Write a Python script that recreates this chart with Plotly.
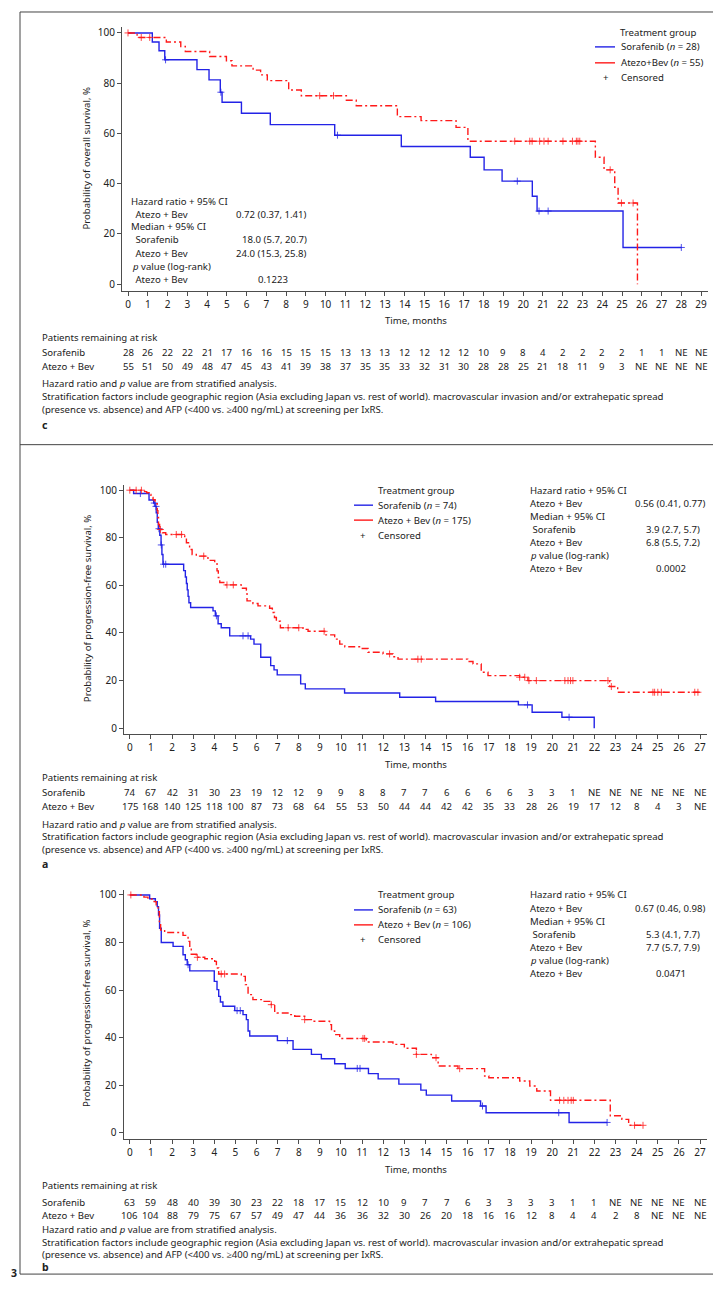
import plotly.graph_objects as go

W, H = 721, 1297
FONT = "Noto Sans"
TXT = "#222222"
AX = "#4d4d4d"
BLUE = "#2323e6"
RED = "#ff1a1a"

# ---------------- data: panel c (overall survival) ----------------
c_months = list(range(0, 30))
c_sor_risk = ["28", "26", "22", "22", "21", "17", "16", "16", "15", "15", "15", "13", "13", "13", "12",
              "12", "12", "12", "10", "9", "8", "4", "2", "2", "2", "2", "1", "1", "NE", "NE"]
c_ate_risk = ["55", "51", "50", "49", "48", "47", "45", "43", "41", "39", "38", "37", "35", "35", "33",
              "32", "31", "30", "28", "28", "25", "21", "18", "11", "9", "3", "NE", "NE", "NE", "NE"]
c_sor_t = [0, 1.23, 1.57, 1.86, 3.49, 4.10, 4.67, 4.76, 5.74, 7.20, 10.46, 13.83, 17.32, 18.02, 18.93,
           20.46, 20.70, 25.05, 28.0]
c_sor_s = [100, 96.4, 92.9, 89.3, 85.4, 81.3, 76.4, 72.4, 68.0, 63.5, 59.3, 54.8, 50.5, 45.5, 41.0,
           35.0, 29.1, 14.6, 14.6]
c_sor_cens = [1.9, 4.7, 10.6, 19.7, 20.8, 21.26, 28.0]
c_ate_t = [0, 0.46, 1.94, 2.67, 2.90, 4.13, 4.98, 5.26, 6.33, 6.71, 7.05, 8.13, 8.77, 11.05, 11.55,
           13.63, 14.83, 16.60, 17.20, 23.65, 24.09, 24.63, 24.80, 25.78]
c_ate_s = [100, 98.2, 96.4, 94.6, 92.6, 90.6, 88.9, 86.9, 85.2, 83.3, 81.0, 77.3, 75.0, 73.2, 71.0,
           66.7, 65.1, 62.4, 56.9, 50.5, 45.5, 38.6, 32.3, 0]
c_ate_cens = [0.0, 0.67, 1.1, 9.7, 10.4, 19.57, 20.33, 20.45, 20.83, 21.05, 21.26, 22.01, 22.49,
              22.69, 22.77, 22.86, 24.4, 24.97, 25.56]

# ---------------- data: panel a (PFS) ----------------
ab_months = list(range(0, 28))
a_sor_risk = ["74", "67", "42", "31", "30", "23", "19", "12", "12", "9", "9", "8", "8", "7", "7",
              "6", "6", "6", "6", "3", "3", "1", "NE", "NE", "NE", "NE", "NE", "NE"]
a_ate_risk = ["175", "168", "140", "125", "118", "100", "87", "73", "68", "64", "55", "53", "50", "44",
              "44", "42", "42", "35", "33", "28", "26", "19", "17", "12", "8", "4", "3", "NE"]
a_sor_t = [0, 0.18, 0.91, 1.13, 1.20, 1.25, 1.30, 1.35, 1.42, 1.48, 1.52, 1.57, 2.55, 2.63, 2.68,
           2.72, 2.76, 2.80, 2.88, 3.94, 4.05, 4.18, 4.33, 4.73, 5.72, 5.88, 6.20, 6.67, 6.83, 6.98,
           8.09, 8.31, 10.17, 12.78, 14.48, 18.40, 19.05, 20.46, 21.99]
a_sor_s = [100, 98.6, 95.9, 94.6, 93.2, 90.5, 86.5, 83.8, 81.1, 77.0, 73.0, 68.9, 66.2, 63.5, 60.8,
           58.1, 55.4, 52.7, 50.7, 49.3, 47.2, 43.9, 42.2, 38.8, 37.4, 35.3, 29.8, 26.3, 24.5, 22.4,
           18.6, 16.5, 14.8, 13.0, 11.2, 9.8, 6.7, 4.6, 0]
a_sor_cens = [0.5, 1.16, 1.24, 1.38, 1.49, 1.6, 1.7, 4.1, 5.36, 5.6, 18.83, 20.8]
a_ate_t = [0, 0.70, 0.80, 0.91, 1.00, 1.10, 1.20, 1.30, 1.33, 1.36, 1.41, 1.54, 1.70, 2.60, 2.68,
           2.83, 2.95, 3.15, 3.70, 4.02, 4.13, 4.19, 4.26, 4.49, 5.28, 5.52, 5.55, 5.83, 6.07, 6.62,
           6.75, 6.85, 6.94, 7.13, 8.20, 8.44, 9.23, 9.70, 9.94, 10.18, 10.96, 11.28, 11.99, 12.46,
           12.70, 16.00, 16.25, 16.64, 16.96, 18.46, 18.85, 22.72, 23.10, 27.10]
a_ate_s = [100, 99.4, 98.9, 98.2, 97.0, 96.0, 94.3, 91.4, 88.5, 85.6, 83.5, 82.1, 81.4, 80.0, 77.9,
           75.1, 73.0, 72.3, 70.5, 69.6, 66.1, 63.3, 61.2, 60.2, 58.8, 58.0, 53.5, 52.4, 51.4, 50.4,
           48.6, 46.5, 44.9, 42.2, 41.5, 40.7, 39.2, 37.4, 35.3, 34.2, 33.5, 31.9, 31.2, 30.0,
           29.0, 28.0, 27.0, 23.5, 22.1, 21.4, 20.0, 17.5, 15.1, 15.1]
a_ate_cens = [0.0, 0.3, 0.55, 1.45, 2.2, 2.45, 3.5, 4.6, 4.9, 7.5, 8.0, 9.2, 12.3, 13.64, 13.8,
              18.46, 18.7, 18.9, 19.25, 20.6, 20.75, 20.87, 20.98, 22.64, 22.8, 24.77, 24.85, 25.0,
              25.17, 26.75, 26.9]

# ---------------- data: panel b (PFS) ----------------
b_sor_risk = ["63", "59", "48", "40", "39", "30", "23", "22", "18", "17", "15", "12", "10", "9", "7",
              "7", "6", "3", "3", "3", "3", "1", "1", "NE", "NE", "NE", "NE", "NE"]
b_ate_risk = ["106", "104", "88", "79", "75", "67", "57", "49", "47", "44", "36", "36", "32", "30",
              "26", "20", "18", "16", "16", "12", "8", "4", "4", "2", "8", "NE", "NE", "NE"]
b_sor_t = [0, 0.94, 1.21, 1.30, 1.36, 1.41, 1.49, 2.05, 2.52, 2.63, 2.72, 2.84, 4.00, 4.13, 4.21,
           4.29, 4.41, 4.97, 5.36, 5.52, 5.60, 5.68, 6.99, 7.73, 8.60, 9.07, 9.70, 10.20, 11.30,
           11.76, 12.74, 13.78, 14.04, 15.24, 16.61, 16.87, 20.80, 22.60]
b_sor_s = [100, 98.4, 97.2, 95.1, 91.6, 86.0, 80.0, 78.4, 74.9, 72.8, 70.7, 68.1, 63.7, 60.2, 57.4,
           55.0, 53.2, 51.4, 49.7, 47.6, 42.8, 40.7, 38.8, 35.1, 33.0, 31.2, 29.1, 27.1, 24.9,
           22.7, 20.5, 18.0, 15.9, 13.4, 11.3, 8.5, 4.4, 4.4]
b_sor_cens = [2.76, 5.08, 5.23, 7.46, 10.77, 10.9, 16.7, 20.31, 22.6]
b_ate_t = [0, 0.67, 0.86, 1.15, 1.25, 1.34, 1.40, 1.46, 1.65, 2.52, 2.76, 2.84, 2.91, 3.15, 3.55,
           4.02, 4.10, 4.21, 5.28, 5.47, 5.60, 5.83, 6.23, 6.70, 6.86, 6.98, 7.49, 7.81, 8.28, 8.67,
           9.46, 9.55, 9.70, 9.94, 11.20, 12.46, 13.00, 13.57, 14.28, 14.60, 15.54, 16.80, 17.00,
           18.46, 18.94, 19.27, 19.92, 22.75, 23.30, 23.62, 24.30]
b_ate_s = [100, 99.1, 98.3, 97.2, 95.5, 93.0, 88.8, 85.3, 84.2, 83.0, 80.5, 77.7, 75.1, 73.8, 73.2,
           72.1, 69.3, 66.8, 65.8, 62.3, 58.1, 56.0, 55.3, 53.9, 51.1, 50.4, 49.7, 49.0, 47.6, 46.9,
           45.5, 42.8, 41.3, 39.7, 38.2, 37.2, 35.6, 33.0, 31.6, 28.1, 27.0, 23.9, 23.2,
           21.8, 19.7, 17.6, 13.7, 7.2, 5.7, 3.2, 3.2]
b_ate_cens = [0.05, 3.2, 4.33, 4.49, 6.7, 8.28, 11.04, 11.12, 13.57, 14.5, 15.62, 20.35, 20.55,
              20.75, 20.9, 21.0, 23.9, 24.3]

# ---------------- text ----------------
c_stats = [("Hazard ratio + 95% CI", ""), (" Atezo + Bev", "0.72 (0.37, 1.41)"),
           ("Median + 95% CI", ""), (" Sorafenib", "18.0 (5.7, 20.7)"),
           (" Atezo + Bev", "24.0 (15.3, 25.8)"), ("<i>p</i> value (log-rank)", ""),
           (" Atezo + Bev", "0.1223")]
a_stats = [("Hazard ratio + 95% CI", ""), ("Atezo + Bev", "0.56 (0.41, 0.77)"),
           ("Median + 95% CI", ""), (" Sorafenib", "3.9 (2.7, 5.7)"),
           ("Atezo + Bev", "6.8 (5.5, 7.2)"), ("<i>p</i> value (log-rank)", ""),
           ("Atezo + Bev", "0.0002")]
b_stats = [("Hazard ratio + 95% CI", ""), ("Atezo + Bev", "0.67 (0.46, 0.98)"),
           ("Median + 95% CI", ""), (" Sorafenib", "5.3 (4.1, 7.7)"),
           ("Atezo + Bev", "7.7 (5.7, 7.9)"), ("<i>p</i> value (log-rank)", ""),
           ("Atezo + Bev", "0.0471")]
note1 = "Hazard ratio and <i>p</i> value are from stratified analysis."
note2 = ("Stratification factors include geographic region (Asia excluding Japan vs. rest of world). "
         "macrovascular invasion and/or extrahepatic spread")
note3 = "(presence vs. absence) and AFP (&lt;400 vs. ≥400 ng/mL) at screening per IxRS."


def level(ts, ss, tc):
    v = ss[0]
    for t, s in zip(ts, ss):
        if t <= tc:
            v = s
    return v


fig = go.Figure()
annotations = []
shapes = []


def A(x, y, text, anchor="left", size=9.6, xref="paper", color=TXT, angle=0):
    annotations.append(dict(
        x=(x / W if xref == "paper" else x), y=1 - y / H, xref=xref, yref="paper",
        text=text, showarrow=False, xanchor=anchor, yanchor="middle", textangle=angle,
        font=dict(size=size, family=FONT, color=color), borderpad=0))


def L(x0, y0, x1, y1, color, width=1.0):
    shapes.append(dict(type="line", xref="paper", yref="paper", x0=x0 / W, x1=x1 / W,
                       y0=1 - y0 / H, y1=1 - y1 / H, line=dict(color=color, width=width)))


DASH = "7px,3px,2px,3px"
panels = [
    dict(ax="", xd=(114, 700), yd=(16, 281), xr=[-0.304, 29.35], yr=[-2.78, 102.38],
         months=c_months, sor_risk=c_sor_risk, ate_risk=c_ate_risk,
         curves=[(c_sor_t, c_sor_s, c_sor_cens, BLUE, "solid"),
                 (c_ate_t, c_ate_s, c_ate_cens, RED, DASH)],
         ytitle="Probability of overall survival, %", ytitle_y=148, xtitle_y=310,
         text_y=[328, 343, 357, 374, 387, 400], label="c", label_y=415),
    dict(ax="2", xd=(116, 699), yd=(475.7, 725), xr=[-0.275, 27.33], yr=[-2.35, 102.09],
         months=ab_months, sor_risk=a_sor_risk, ate_risk=a_ate_risk,
         curves=[(a_sor_t, a_sor_s, a_sor_cens, BLUE, "solid"),
                 (a_ate_t, a_ate_s, a_ate_cens, RED, DASH)],
         ytitle="Probability of progression-free survival, %", ytitle_y=600, xtitle_y=755.7,
         text_y=[769, 784, 798, 815.7, 828.2, 840.7], label="a", label_y=856),
    dict(ax="3", xd=(115.5, 699), yd=(881.7, 1131.7), xr=[-0.298, 27.33], yr=[-2.64, 102.09],
         months=ab_months, sor_risk=b_sor_risk, ate_risk=b_ate_risk,
         curves=[(b_sor_t, b_sor_s, b_sor_cens, BLUE, "solid"),
                 (b_ate_t, b_ate_s, b_ate_cens, RED, DASH)],
         ytitle="Probability of progression-free survival, %", ytitle_y=1006, xtitle_y=1161.7,
         text_y=[1178.3, 1195, 1208.3, 1222.7, 1235.2, 1247.7], label="b", label_y=1260),
]

layout_axes = {}
for p in panels:
    xa = "x" + p["ax"]
    ya = "y" + p["ax"]
    for (ts, ss, cens, col, dash) in p["curves"]:
        fig.add_trace(go.Scatter(x=ts, y=ss, mode="lines", xaxis=xa, yaxis=ya, showlegend=False,
                                 line=dict(shape="hv", color=col, width=1.4, dash=dash),
                                 hoverinfo="skip"))
        fig.add_trace(go.Scatter(x=cens, y=[level(ts, ss, c) for c in cens], mode="markers",
                                 xaxis=xa, yaxis=ya, showlegend=False, hoverinfo="skip",
                                 marker=dict(symbol="cross-thin", size=5,
                                             line=dict(color=col, width=0.8))))
    common = dict(showline=True, linecolor=AX, linewidth=1, ticks="outside", ticklen=4,
                  tickwidth=1, tickcolor=AX, showgrid=False, zeroline=False,
                  tickfont=dict(size=10, family=FONT, color=TXT))
    layout_axes["xaxis" + p["ax"]] = dict(domain=[p["xd"][0] / W, p["xd"][1] / W], range=p["xr"],
                                          anchor=ya, tickmode="linear", tick0=0, dtick=1, **common)
    layout_axes["yaxis" + p["ax"]] = dict(domain=[1 - p["yd"][1] / H, 1 - p["yd"][0] / H],
                                          range=p["yr"], anchor=xa, tickmode="array",
                                          tickvals=[0, 20, 40, 60, 80, 100], **common)
    # axis titles
    A(79, p["ytitle_y"], p["ytitle"], anchor="center", angle=-90)
    A(408, p["xtitle_y"], "Time, months", anchor="center")
    # at-risk table
    ty = p["text_y"]
    A(33, ty[0], "Patients remaining at risk")
    A(33, ty[1], "Sorafenib")
    A(33, ty[2], "Atezo + Bev")
    for m, v in zip(p["months"], p["sor_risk"]):
        A(m, ty[1], v, anchor="center", xref=xa)
    for m, v in zip(p["months"], p["ate_risk"]):
        A(m, ty[2], v, anchor="center", xref=xa)
    A(33, ty[3], note1)
    A(33, ty[4], note2)
    A(33, ty[5], note3)
    A(33, p["label_y"], "<b>" + p["label"] + "</b>", size=10.5)

# ---- panel c legend and statistics ----
A(611, 22, "Treatment group")
L(587, 36, 607, 36, BLUE, 1.4)
A(612, 36, "Sorafenib (<i>n</i> = 28)")
L(587, 52, 607, 52, RED, 1.4)
A(612, 52, "Atezo+Bev (<i>n</i> = 55)")
A(598, 67, "+", anchor="center")
A(612, 67, "Censored")
c_rows = [191, 204, 216, 229, 243, 256, 269]
c_lx = [122, 124, 122, 124, 124, 123, 124]
for (lab, val), yy, lx in zip(c_stats, c_rows, c_lx):
    A(lx, yy, lab)
    if val:
        if val.startswith("0.1"):
            A(265, yy, val, anchor="center")
        else:
            A(300, yy, val, anchor="right")

# ---- panels a, b legend and statistics ----
for stats, y0, n1, n2 in [(a_stats, 480.7, "74", "175"), (b_stats, 886.7, "63", "106")]:
    A(369, y0, "Treatment group")
    L(346, y0 + 15, 365, y0 + 15, BLUE, 1.4)
    A(369, y0 + 15, "Sorafenib (<i>n</i> = " + n1 + ")")
    L(346, y0 + 30, 365, y0 + 30, RED, 1.4)
    A(369, y0 + 30, "Atezo + Bev (<i>n</i> = " + n2 + ")")
    A(355, y0 + 45, "+", anchor="center")
    A(369, y0 + 45, "Censored")
    for i, (lab, val) in enumerate(stats):
        yy = y0 + i * 13.1
        A(521, yy, lab)
        if val:
            if i == 1:
                A(699, yy, val, anchor="right")
            elif i == 6:
                A(663, yy, val, anchor="center")
            else:
                A(693, yy, val, anchor="right")

# ---- frames ----
BOX = "#444444"
L(12, 1, 717, 1, BOX)
L(12, 1, 12, 1267, BOX)
L(717, 1, 717, 1267, BOX)
L(12, 435, 717, 435, BOX)
L(12, 1267, 717, 1267, BOX)
A(2, 1266, "<b>3</b>", size=10.5)

fig.update_layout(width=W, height=H, margin=dict(l=0, r=0, t=0, b=0), paper_bgcolor="white",
                  plot_bgcolor="white", showlegend=False, annotations=annotations, shapes=shapes,
                  **layout_axes)
fig.write_html("out.html")
